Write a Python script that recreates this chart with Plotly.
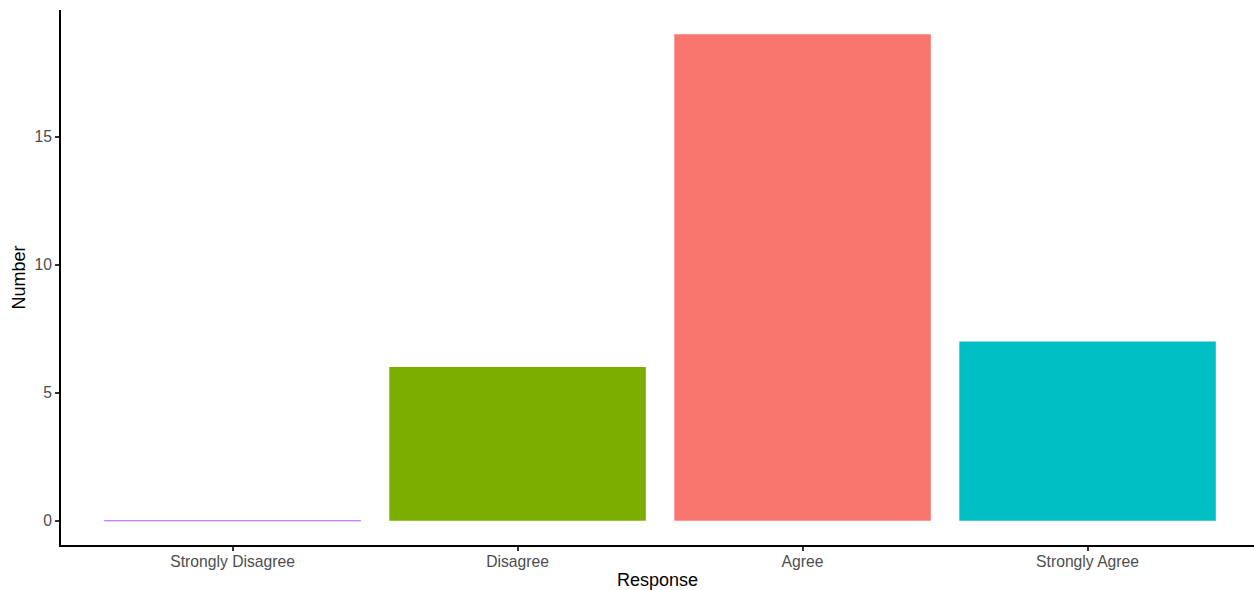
import plotly.graph_objects as go

categories = ["Strongly Disagree", "Disagree", "Agree", "Strongly Agree"]
counts = [0, 6, 19, 7]
colors = ["#C77CFF", "#7CAE00", "#F8766D", "#00BFC4"]
y_ticks = [0, 5, 10, 15]

fig = go.Figure()
fig.add_trace(go.Bar(
    x=categories, y=counts, width=0.9,
    marker=dict(color=colors, line=dict(color=colors, width=[1, 0, 0, 0])),
    showlegend=False,
))

fig.update_layout(
    width=1254, height=590,
    margin=dict(l=61, r=0, t=10, b=45),
    paper_bgcolor="white", plot_bgcolor="white",
    font=dict(family="Liberation Sans, Arial, sans-serif", color="#4D4D4D", size=15.7),
)
fig.update_xaxes(
    range=[-0.602, 3.584],
    showline=True, linecolor="black", linewidth=2,
    ticks="outside", ticklen=4, tickcolor="#333333", tickwidth=1.5,
    tickfont=dict(size=15.7, color="#4D4D4D"),
    ticklabelstandoff=-3,
    title=dict(text="Response", font=dict(size=18, color="black"), standoff=6),
    showgrid=False, zeroline=False,
)
fig.update_yaxes(
    range=[-0.95, 19.95],
    tickvals=y_ticks,
    showline=True, linecolor="black", linewidth=2,
    ticks="outside", ticklen=4, tickcolor="#333333", tickwidth=1.5,
    tickfont=dict(size=15.7, color="#4D4D4D"),
    title=dict(text="Number", font=dict(size=18, color="black"), standoff=4),
    showgrid=False, zeroline=False,
)

fig.write_html(
    "out.html",
    config={"displayModeBar": False},
    post_script="document.body.style.margin='0';document.body.style.overflow='hidden';",
)
